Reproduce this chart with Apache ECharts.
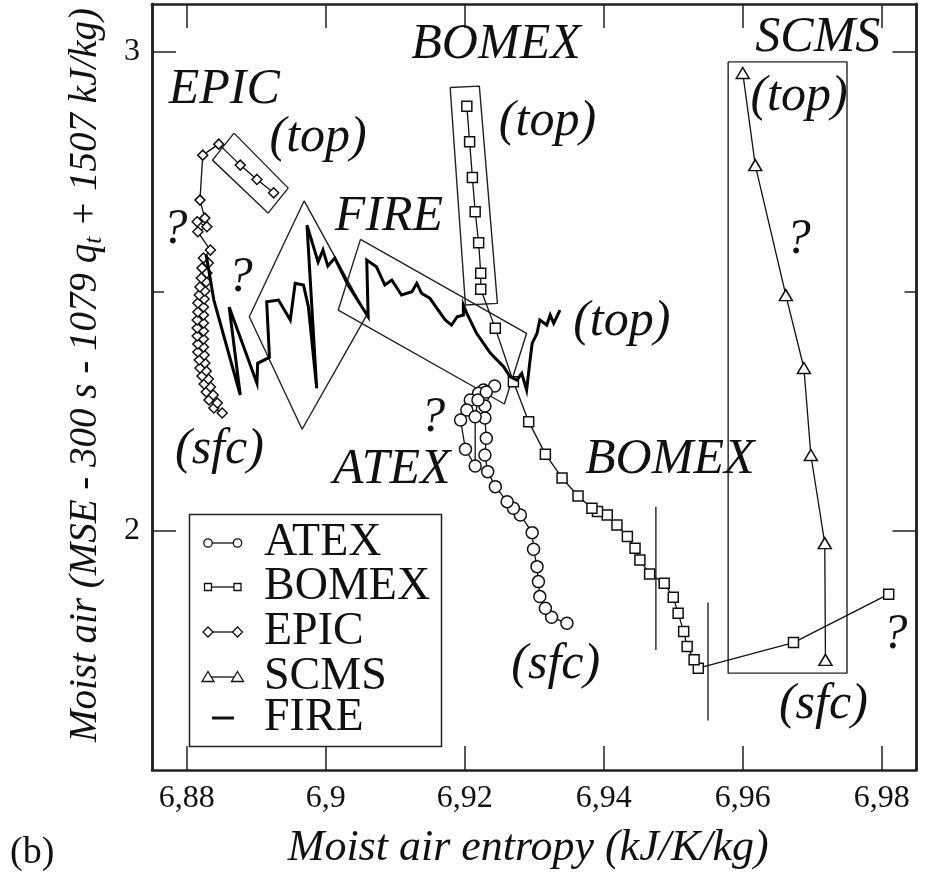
<!DOCTYPE html>
<html><head><meta charset="utf-8">
<script src="https://cdn.jsdelivr.net/npm/echarts@6/dist/echarts.min.js"></script>
<style>html,body{margin:0;padding:0;background:#fff}#c{width:926px;height:876px}</style>
</head><body><div id="c"></div>
<script>
// Tick positions
const xTicks = [6.88, 6.90, 6.92, 6.94, 6.96, 6.98];
const yMajor = [2, 3];
const yMinor = [2.5];

// Profiles: [moist air entropy, moist air MSE combination]
const atex = [[6.9347,1.8067],[6.9325,1.8192],[6.9316,1.8380],[6.9308,1.8622],[6.9306,1.8935],[6.9304,1.9248],[6.9299,1.9612],[6.9297,1.9958],[6.9280,2.0328],[6.9270,2.0468],[6.9261,2.0605],[6.9244,2.0919],[6.9233,2.1232],[6.9229,2.1580],[6.9231,2.1929],[6.9229,2.2353],[6.9229,2.2603],[6.9243,2.3021],[6.9227,2.2937],[6.9220,2.2868],[6.9208,2.2729],[6.9203,2.2520],[6.9194,2.2311],[6.9201,2.1699],[6.9215,2.1351],[6.9215,2.2380],[6.9219,2.2729],[6.9231,2.2896]];
const bomex = [[6.9810,1.8672],[6.9673,1.7662],[6.9536,1.7127],[6.9530,1.7301],[6.9520,1.7578],[6.9515,1.7891],[6.9507,1.8276],[6.9500,1.8610],[6.9487,1.8902],[6.9466,1.9096],[6.9452,1.9388],[6.9445,1.9633],[6.9434,1.9875],[6.9419,2.0119],[6.9405,2.0328],[6.9391,2.0397],[6.9383,2.0468],[6.9363,2.0724],[6.9340,2.1100],[6.9316,2.1597],[6.9292,2.2276],[6.9270,2.3111],[6.9244,2.4225],[6.9223,2.5040],[6.9223,2.5374],[6.9220,2.6013],[6.9215,2.6660],[6.9211,2.7378],[6.9207,2.8121],[6.9203,2.8866]];
const epic = [[6.8851,2.2457],[6.8839,2.2562],[6.8844,2.2666],[6.8832,2.2729],[6.8838,2.2833],[6.8828,2.2896],[6.8834,2.3000],[6.8825,2.3063],[6.8831,2.3167],[6.8822,2.3230],[6.8828,2.3334],[6.8819,2.3397],[6.8826,2.3501],[6.8818,2.3564],[6.8825,2.3668],[6.8816,2.3731],[6.8824,2.3835],[6.8816,2.3898],[6.8824,2.4002],[6.8815,2.4065],[6.8824,2.4169],[6.8815,2.4232],[6.8824,2.4336],[6.8815,2.4399],[6.8824,2.4503],[6.8816,2.4566],[6.8824,2.4670],[6.8816,2.4754],[6.8825,2.4837],[6.8818,2.4921],[6.8826,2.5004],[6.8819,2.5088],[6.8828,2.5192],[6.8821,2.5276],[6.8829,2.5380],[6.8822,2.5484],[6.8831,2.5589],[6.8824,2.5693],[6.8834,2.5860],[6.8816,2.6242],[6.8829,2.6347],[6.8815,2.6451],[6.8826,2.6528],[6.8819,2.6904],[6.8823,2.7843],[6.8846,2.8073],[6.8877,2.7635],[6.8901,2.7336],[6.8925,2.7056]];
const scms = [[6.9719,1.7300],[6.9718,1.9740],[6.9698,2.1580],[6.9688,2.3397],[6.9662,2.4920],[6.9618,2.7635],[6.9600,2.9560]];
const fire = [[6.8828,2.5756],[6.8839,2.4816],[6.8877,2.2833],[6.8861,2.4670],[6.8901,2.3077],[6.8902,2.3495],[6.8919,2.3620],[6.8915,2.4781],[6.8932,2.4816],[6.8949,2.4399],[6.8956,2.5165],[6.8968,2.5129],[6.8975,2.4676],[6.8987,2.2973],[6.8973,2.6382],[6.8989,2.5610],[6.8996,2.5860],[6.9003,2.5526],[6.9013,2.5693],[6.9032,2.5129],[6.9061,2.4468],[6.9059,2.5651],[6.9073,2.5511],[6.9085,2.5129],[6.9095,2.5234],[6.9109,2.4921],[6.9124,2.4990],[6.9131,2.5165],[6.9138,2.4956],[6.9150,2.4852],[6.9160,2.4643],[6.9172,2.4399],[6.9181,2.4294],[6.9189,2.4468],[6.9198,2.4503],[6.9198,2.4712],[6.9203,2.4539],[6.9217,2.4121],[6.9237,2.3704],[6.9256,2.3424],[6.9265,2.3215],[6.9275,2.3146],[6.9282,2.3286],[6.9289,2.2937],[6.9294,2.3564],[6.9297,2.3912],[6.9304,2.4121],[6.9308,2.4399],[6.9318,2.4294],[6.9323,2.4503],[6.9328,2.4330],[6.9337,2.4608]];

// Outlines grouping parts of the profiles
const epicTopBox = [[6.8868,2.8303],[6.8946,2.7154],[6.8917,2.6633],[6.8837,2.7739],[6.8868,2.8303]];
const fireDiamond = [[6.8969,2.6889],[6.9059,2.4503],[6.8966,2.2117],[6.8890,2.4468],[6.8969,2.6889]];
const fireBox = [[6.9050,2.6084],[6.9289,2.4121],[6.9257,2.2645],[6.9018,2.4608],[6.9050,2.6084]];
const bomexTopBox = [[6.9179,2.9257],[6.9221,2.9284],[6.9247,2.4747],[6.9201,2.4712],[6.9179,2.9257]];
const scmsBox = [[6.9579,2.9791],[6.9750,2.9791],[6.9750,1.7023],[6.9579,1.7023],[6.9579,2.9791]];
const bomexBarA = [[6.9475,2.0501],[6.9475,1.7509]];
const bomexBarB = [[6.9550,1.8497],[6.9550,1.6033]];

// Text notes placed in data coordinates
const notes = [
  [6.8854,2.920,'EPIC'],[6.8989,2.8198,'(top)'],[6.9091,2.6549,'FIRE'],
  [6.9245,3.014,'BOMEX'],[6.9319,2.8532,'(top)'],[6.9708,3.0286,'SCMS'],
  [6.9681,2.9054,'(top)'],[6.9680,2.6069,'?'],[6.8783,2.6278,'?'],
  [6.8877,2.5276,'?'],[6.8847,2.1685,'(sfc)'],[6.9154,2.2353,'?'],
  [6.9095,2.1267,'ATEX'],[6.9426,2.4357,'(top)'],[6.9495,2.1476,'BOMEX'],
  [6.9331,1.7196,'(sfc)'],[6.9716,1.6361,'(sfc)'],[6.9819,1.7823,'?']
];

const SERIF = '"Liberation Serif", "DejaVu Serif", serif';
const INK = '#111';

function profile(name, data, symbol, size) {
  return {
    name, type: 'line', data, symbol, symbolSize: size, showSymbol: true,
    lineStyle: { color: INK, width: 1.3 },
    itemStyle: { color: '#fff', borderColor: INK, borderWidth: 1.5 },
    z: 3
  };
}
function outline(data) {
  return {
    type: 'line', data, symbol: 'none', silent: true,
    lineStyle: { color: '#222', width: 1.4 }, z: 2
  };
}

function xAxisDef(pos, withLabels) {
  return {
    type: 'value', position: pos, min: 6.875, max: 6.985,
    splitLine: { show: false },
    axisLine: { show: true, onZero: false, lineStyle: { color: '#222', width: 2.5 } },
    axisTick: { show: true, inside: true, length: 24, customValues: xTicks, lineStyle: { color: '#222', width: 1.5 } },
    axisLabel: withLabels ? {
      show: true, customValues: xTicks, margin: 13,
      fontFamily: SERIF, fontSize: 32, color: INK,
      formatter: v => String(+v.toFixed(2)).replace('.', ',')
    } : { show: false },
    name: withLabels ? 'Moist air entropy (kJ/K/kg)' : '',
    nameLocation: 'middle', nameGap: 56,
    nameTextStyle: { fontFamily: SERIF, fontStyle: 'italic', fontSize: 44, color: INK, padding: [0, 12, 0, 0] }
  };
}
function yAxisDef(pos, ticks, len, withLabels) {
  const ax = {
    type: 'value', position: pos, min: 1.5, max: 3.1,
    splitLine: { show: false },
    axisLine: { show: true, onZero: false, lineStyle: { color: '#222', width: 2.5 } },
    axisTick: { show: true, inside: true, length: len, customValues: ticks, lineStyle: { color: '#222', width: 1.5 } },
    axisLabel: withLabels ? {
      show: true, customValues: ticks, margin: 12,
      fontFamily: SERIF, fontSize: 32, color: INK
    } : { show: false }
  };
  if (withLabels) {
    ax.name = 'Moist air (MSE - 300 s - 1079 q{sub|t} + 1507 kJ/kg)';
    ax.nameLocation = 'middle';
    ax.nameGap = 45;
    ax.nameTextStyle = {
      fontFamily: SERIF, fontStyle: 'italic', fontSize: 39, color: INK, padding: [0, 0, 0, 24],
      rich: { sub: { fontFamily: SERIF, fontStyle: 'italic', fontSize: 25, color: INK, verticalAlign: 'bottom', padding: [18, 0, 0, 0] } }
    };
  }
  return ax;
}

// Legend drawn as a framed block
const legendRows = [
  ['ATEX', 'circle'], ['BOMEX', 'rect'], ['EPIC', 'diamond'], ['SCMS', 'triangle'], ['FIRE', 'bar']
];
function legendSymbol(kind, cx, cy) {
  const st = { fill: '#fff', stroke: INK, lineWidth: 1.3 };
  if (kind === 'circle') return { type: 'circle', shape: { cx, cy, r: 4.2 }, style: st };
  if (kind === 'rect') return { type: 'rect', shape: { x: cx - 3.5, y: cy - 3.5, width: 7, height: 7 }, style: st };
  if (kind === 'diamond') return { type: 'polygon', shape: { points: [[cx, cy - 5], [cx + 5, cy], [cx, cy + 5], [cx - 5, cy]] }, style: st };
  return { type: 'polygon', shape: { points: [[cx, cy - 5.5], [cx + 6, cy + 4.5], [cx - 6, cy + 4.5]] }, style: st };
}
const legendChildren = [{
  type: 'rect', shape: { x: 189.5, y: 514.5, width: 252, height: 232 },
  style: { fill: '#fff', stroke: '#222', lineWidth: 1.5 }
}];
const rowY = [543, 587, 632, 677, 718];
legendRows.forEach((r, i) => {
  const y = rowY[i];
  if (r[1] === 'bar') {
    legendChildren.push({ type: 'line', shape: { x1: 212, y1: y, x2: 234, y2: y }, style: { stroke: INK, lineWidth: 3 } });
  } else {
    legendChildren.push({ type: 'line', shape: { x1: 208, y1: y, x2: 237.5, y2: y }, style: { stroke: INK, lineWidth: 1.3 } });
    legendChildren.push(legendSymbol(r[1], 208, y));
    legendChildren.push(legendSymbol(r[1], 237.5, y));
  }
  legendChildren.push({
    type: 'text', x: 264, y: y,
    style: { text: r[0], fontFamily: SERIF, fontSize: 46, fill: INK, textVerticalAlign: 'middle', textAlign: 'left' }
  });
});

const chart = echarts.init(document.getElementById('c'), null, { renderer: 'canvas' });
chart.setOption({
  animation: false,
  backgroundColor: '#fff',
  grid: { left: 152, right: 9.5, top: 4, bottom: 106, containLabel: false, outerBoundsMode: 'none' },
  xAxis: [xAxisDef('bottom', true), xAxisDef('top', false)],
  yAxis: [
    yAxisDef('left', yMajor, 24, true),
    yAxisDef('left', yMinor, 12, false),
    yAxisDef('right', yMajor, 24, false),
    yAxisDef('right', yMinor, 12, false)
  ],
  series: [
    outline(epicTopBox), outline(fireDiamond), outline(fireBox),
    outline(bomexTopBox), outline(scmsBox), outline(bomexBarA), outline(bomexBarB),
    {
      name: 'FIRE', type: 'line', data: fire, symbol: 'none',
      lineStyle: { color: '#000', width: 3, join: 'miter', miterLimit: 8 }, z: 4
    },
    profile('ATEX', atex, 'circle', 12),
    profile('BOMEX', bomex, 'rect', 10),
    profile('EPIC', epic, 'diamond', 10),
    profile('SCMS', scms, 'triangle', [13, 11]),
    {
      type: 'custom', data: notes, z: 6, silent: true,
      renderItem: (params, api) => {
        const p = api.coord([api.value(0), api.value(1)]);
        return {
          type: 'text', x: p[0], y: p[1],
          style: { text: notes[params.dataIndex][2], fontFamily: SERIF, fontStyle: 'italic', fontSize: 50, fill: INK, textAlign: 'center', textVerticalAlign: 'middle' }
        };
      }
    }
  ],
  graphic: [
    { type: 'group', children: legendChildren, z: 10 },
    { type: 'text', left: 10, top: 834, style: { text: '(b)', fontFamily: SERIF, fontSize: 38, fill: INK } }
  ]
});
</script>
</body></html>
